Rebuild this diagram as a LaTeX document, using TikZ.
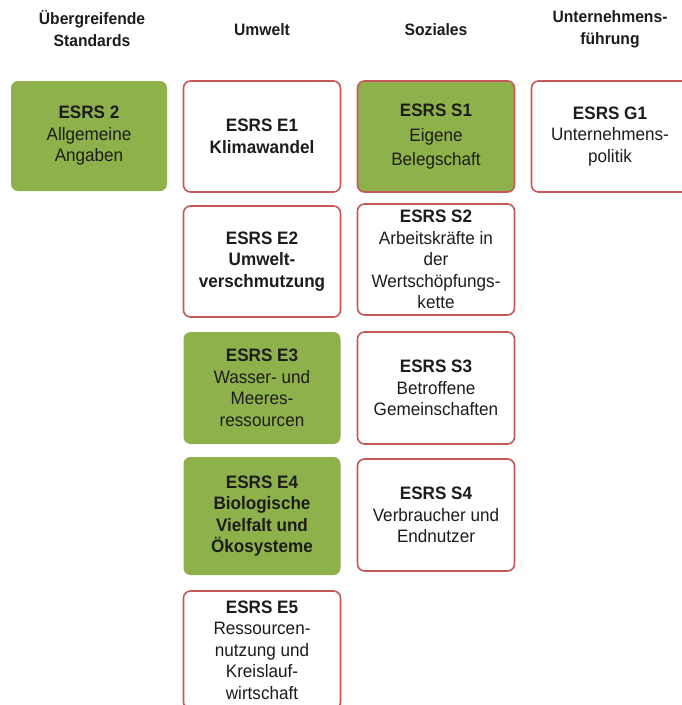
\documentclass[tikz,border=0pt]{standalone}
\usepackage{fontspec}
\setmainfont[FakeStretch=0.95]{Liberation Sans}
\definecolor{esgreen}{RGB}{143,177,76}
\definecolor{esred}{RGB}{200,88,88}
\definecolor{estext}{RGB}{28,28,28}
\begin{document}
\begin{tikzpicture}[x=1pt,y=-1pt,
  every node/.style={text=estext, align=center, inner sep=0pt},
  boxbase/.style={rounded corners=7pt, minimum width=157pt, font=\fontsize{18}{21.5}\selectfont},
  greenbox/.style={boxbase, fill=esgreen},
  redbox/.style={boxbase, fill=white, draw=esred, line width=1.6pt},
  greenredbox/.style={boxbase, fill=esgreen, draw=esred, line width=1.6pt},
  header/.style={font=\fontsize{16.5}{22}\selectfont\bfseries}]
\clip (0,0) rectangle (682,705);
\fill[white] (0,0) rectangle (682,705);
% headers
\node[header] (h1) at (92,29) {Übergreifende\\Standards};
\node[header] (h2) at (262,30) {Umwelt};
\node[header] (h3) at (436,30) {Soziales};
\node[header] (h4) at (610,29) {Unternehmens-\\führung};
% column 1
\node[greenbox, minimum width=156pt, minimum height=110pt] (esrs2) at (89,136) {\textbf{ESRS 2}\\Allgemeine\\Angaben};
% column 2
\node[redbox, minimum height=111pt] (e1) at (262,136.5) {\textbf{ESRS E1}\\\textbf{Klimawandel}};
\node[redbox, minimum height=111pt] (e2) at (262,261.5) {\textbf{ESRS E2}\\\textbf{Umwelt-}\\\textbf{verschmutzung}};
\node[greenbox, minimum height=112pt] (e3) at (262,388) {\textbf{ESRS E3}\\Wasser- und\\Meeres-\\ressourcen};
\node[greenbox, minimum height=118pt] (e4) at (262,516) {\textbf{ESRS E4}\\\textbf{Biologische}\\\textbf{Vielfalt und}\\\textbf{Ökosysteme}};
\node[redbox, minimum height=118pt] (e5) at (262,650) {\textbf{ESRS E5}\\Ressourcen-\\nutzung und\\Kreislauf-\\wirtschaft};
% column 3
\node[greenredbox, minimum height=111pt, font=\fontsize{18}{23.5}\selectfont] (s1) at (436,136.5) {\textbf{ESRS S1}\\[2pt]Eigene\\Belegschaft};
\node[redbox, minimum height=111pt] (s2) at (436,259.5) {\textbf{ESRS S2}\\Arbeitskräfte in\\der\\Wertschöpfungs-\\kette};
\node[redbox, minimum height=112pt] (s3) at (436,388) {\textbf{ESRS S3}\\Betroffene\\Gemeinschaften};
\node[redbox, minimum height=112pt] (s4) at (436,515) {\textbf{ESRS S4}\\Verbraucher und\\Endnutzer};
% column 4
\node[redbox, minimum height=111pt] (g1) at (610,136.5) {\textbf{ESRS G1}\\Unternehmens-\\politik};
\end{tikzpicture}
\end{document}
